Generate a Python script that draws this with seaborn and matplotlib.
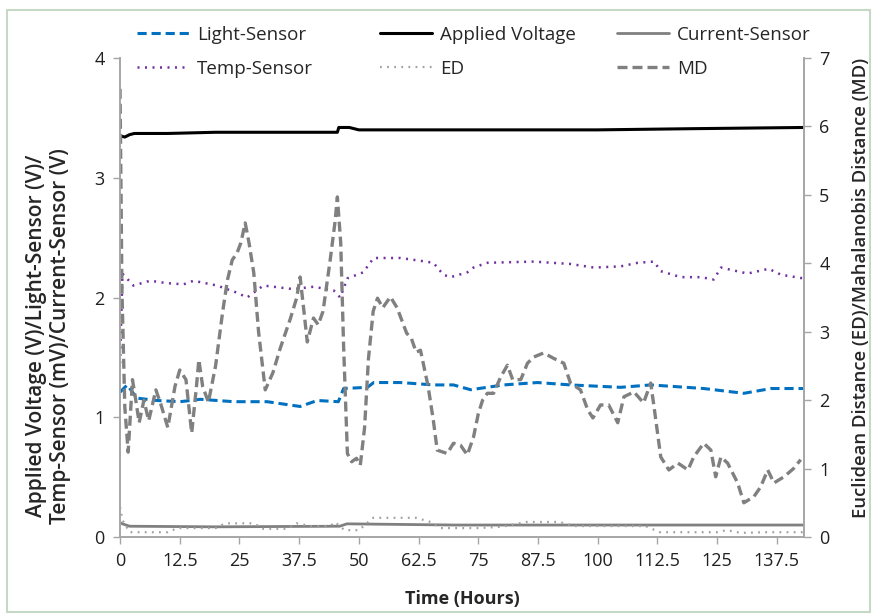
import numpy as np
import pandas as pd
import seaborn as sns
import matplotlib.pyplot as plt
from matplotlib.patches import Rectangle

# values (hours, value)
md_h = [0, 0.4, 1.0, 1.7, 2.6, 3.3, 4.0, 5.0, 6.0, 7.5, 8.5, 10.0, 11.5, 12.5, 13.8, 15.0, 16.0, 16.5, 17.3,
        18.5, 20.0, 21.5, 22.5, 23.5, 24.5, 25.3, 26.2, 27.0, 28.0, 29.0, 30.4, 32.0, 33.5, 35.7, 37.0, 37.7,
        38.5, 39.2, 40.5, 41.5, 42.5, 44.0, 45.0, 45.5, 46.2, 46.8, 47.6, 48.5, 49.5, 50.3, 51.2, 52.0, 53.0,
        53.9, 55.0, 56.6, 58.0, 60.0, 61.0, 62.0, 62.9, 64.5, 65.6, 66.4, 68.5, 69.8, 71.3, 72.7, 74.0, 75.0,
        75.9, 76.9, 78.2, 79.7, 81.1, 82.2, 83.9, 85.3, 86.6, 88.7, 90.8, 92.9, 94.3, 96.4, 97.9, 99.0, 100.6,
        102.3, 104.2, 105.5, 107.6, 109.6, 111.1, 111.8, 113.2, 114.9, 116.8, 118.9, 120.1, 122.2, 123.7,
        124.7, 125.8, 127.2, 129.3, 130.6, 132.7, 134.1, 135.6, 136.9, 139.0, 141.0, 142.5]
md_v = [6.55, 3.6, 1.9, 1.24, 2.3, 2.0, 1.67, 2.0, 1.7, 2.15, 1.95, 1.6, 2.2, 2.44, 2.3, 1.52, 2.2, 2.59, 2.2,
        1.97, 2.5, 3.3, 3.76, 4.05, 4.15, 4.3, 4.59, 4.3, 3.86, 3.0, 2.15, 2.4, 2.75, 3.2, 3.5, 3.8,
        3.3, 2.85, 3.2, 3.1, 3.3, 4.05, 4.6, 4.97, 4.3, 2.8, 1.22, 1.1, 1.15, 1.05, 1.6, 2.6, 3.3,
        3.49, 3.35, 3.51, 3.35, 2.98, 2.9, 2.7, 2.73, 2.2, 1.7, 1.27, 1.22, 1.37, 1.34, 1.2, 1.46, 1.8,
        2.0, 2.1, 2.1, 2.34, 2.51, 2.3, 2.3, 2.54, 2.63, 2.69, 2.61, 2.54, 2.25, 2.15, 1.86, 1.74, 1.93,
        1.93, 1.67, 2.05, 2.12, 1.96, 2.25, 1.9, 1.17, 0.98, 1.08, 0.98, 1.17, 1.37, 1.27,
        0.88, 1.17, 1.08, 0.79, 0.5, 0.59, 0.73, 0.98, 0.79, 0.88, 1.0, 1.13]

light_h = [0, 1.5, 3.5, 7.7, 12.6, 16.8, 23.8, 30.8, 37.7, 41.3, 45.7, 46.8, 51.8, 53.1, 58.7, 65.6, 69.8,
           73.4, 80.3, 87.4, 94.3, 104.8, 111.1, 122.2, 130.6, 136.3, 143.0]
light_v = [1.21, 1.27, 1.16, 1.14, 1.13, 1.15, 1.13, 1.13, 1.09, 1.14, 1.13, 1.24, 1.25, 1.29, 1.29, 1.27, 1.27,
           1.23, 1.27, 1.29, 1.27, 1.25, 1.27, 1.24, 1.2, 1.24, 1.24]

temp_h = [0, 0.5, 2.8, 6.3, 9.8, 13.3, 15.4, 20.3, 24.5, 26.6, 30.0, 36.3, 40.5, 44.7, 46.1, 47.6, 50.9,
          53.1, 58.7, 62.3, 65.6, 67.7, 69.2, 72.7, 74.0, 76.9, 86.6, 94.3, 99.2, 104.8, 108.4, 111.8,
          113.2, 117.4, 121.6, 124.3, 125.8, 131.4, 135.8, 138.4, 143.0]
temp_v = [1.45, 2.2, 2.1, 2.14, 2.12, 2.11, 2.14, 2.1, 2.04, 2.0, 2.1, 2.07, 2.09, 2.06, 2.0, 2.16, 2.21,
          2.33, 2.33, 2.31, 2.29, 2.19, 2.17, 2.21, 2.25, 2.29, 2.3, 2.28, 2.25, 2.26, 2.29, 2.3,
          2.22, 2.17, 2.17, 2.15, 2.25, 2.2, 2.24, 2.19, 2.16]

volt_h = [0, 1.0, 2.0, 3.0, 10.0, 20.0, 30.0, 40.0, 45.5, 45.8, 48.0, 50.0, 60.0, 80.0, 100.0, 120.0, 143.0]
volt_v = [3.35, 3.34, 3.36, 3.37, 3.37, 3.38, 3.38, 3.38, 3.38, 3.42, 3.42, 3.4, 3.4, 3.4, 3.4, 3.41, 3.42]

curr_h = [0, 0.5, 2.0, 20.0, 46.0, 47.5, 70.0, 100.0, 143.0]
curr_v = [0.12, 0.11, 0.09, 0.085, 0.09, 0.11, 0.1, 0.1, 0.1]

ed_h = [0, 0.5, 2.0, 6.0, 10.0, 12.0, 20.0, 22.0, 28.0, 30.0, 35.0, 37.0, 40.0, 44.0, 45.0, 47.0, 50.0,
        53.0, 62.0, 65.0, 67.0, 75.0, 80.0, 85.0, 92.0, 95.0, 110.0, 113.0, 125.0, 127.0, 130.0, 135.0, 143.0]
ed_v = [0.44, 0.25, 0.07, 0.07, 0.07, 0.13, 0.13, 0.2, 0.2, 0.12, 0.12, 0.2, 0.16, 0.16, 0.22, 0.1, 0.1,
        0.28, 0.28, 0.22, 0.13, 0.13, 0.15, 0.22, 0.22, 0.16, 0.16, 0.07, 0.07, 0.1, 0.06, 0.07, 0.07]

x_ticks = [0, 12.5, 25, 37.5, 50, 62.5, 75, 87.5, 100, 112.5, 125, 137.5]

sns.set_style('white')
plt.rcParams['font.family'] = ['Open Sans', 'DejaVu Sans']

fig, ax = plt.subplots(figsize=(8.73, 6.14), dpi=100)
fig.subplots_adjust(left=0.1375, right=0.921, bottom=0.1254, top=0.9055)
ax2 = ax.twinx()

blue = '#0070c0'
purple = '#7030a0'
grey = '#808080'

sns.lineplot(x=light_h, y=light_v, ax=ax, color=blue, lw=2.2, sort=False, label='Light-Sensor', legend=False)
ax.lines[-1].set_dashes((3, 1.6))
sns.lineplot(x=temp_h, y=temp_v, ax=ax, color=purple, lw=1.8, sort=False, label='Temp-Sensor', legend=False)
ax.lines[-1].set_dashes((0.8, 2.2))
sns.lineplot(x=volt_h, y=volt_v, ax=ax, color='black', lw=2.2, sort=False, label='Applied Voltage', legend=False)
sns.lineplot(x=curr_h, y=curr_v, ax=ax, color=grey, lw=2.0, sort=False, label='Current-Sensor', legend=False)

sns.lineplot(x=ed_h, y=ed_v, ax=ax2, color='#a0a0a0', lw=1.6, sort=False, label='ED', legend=False)
ax2.lines[-1].set_dashes((0.8, 2.4))
sns.lineplot(x=md_h, y=md_v, ax=ax2, color=grey, lw=2.4, sort=False, label='MD', legend=False)
ax2.lines[-1].set_dashes((3, 1.5))

ax.set_xlim(0, 143.2)
ax.set_ylim(0, 4)
ax2.set_ylim(0, 7)
ax.set_xticks(x_ticks)
ax.set_xticklabels([f'{t:g}' for t in x_ticks])
ax.set_yticks(range(0, 5))
ax2.set_yticks(range(0, 8))

spine_c = '#a6a6a6'
for a in (ax, ax2):
    a.spines['top'].set_visible(False)
    for s in ['left', 'right', 'bottom']:
        a.spines[s].set_color(spine_c)
        a.spines[s].set_linewidth(1.2)
    a.tick_params(length=5, width=1, color=spine_c, labelsize=13, labelcolor='#202020', pad=6)
    a.grid(False)
ax.tick_params(axis='y', direction='out', left=True, right=False)
ax.tick_params(axis='x', direction='out', bottom=True)
ax2.tick_params(axis='y', direction='out', right=True, left=False)

ax.set_xlabel('Time (Hours)', fontsize=13, fontweight='bold', labelpad=14)
ax.set_ylabel('Applied Voltage (V)/Light-Sensor (V)/\nTemp-Sensor (mV)/Current-Sensor (V)',
              fontsize=15, fontweight='semibold', linespacing=1.15)
ax.yaxis.set_label_coords(-0.072, 0.42)
ax2.set_ylabel('Euclidean Distance (ED)/Mahalanobis Distance (MD)', fontsize=13.3,
               fontweight='semibold')
ax2.yaxis.set_label_coords(1.07, 0.52)

h1, l1 = ax.get_legend_handles_labels()
h2, l2 = ax2.get_legend_handles_labels()
hd = dict(zip(l1 + l2, h1 + h2))
columns = [['Light-Sensor', 'Temp-Sensor'], ['Applied Voltage', 'ED'], ['Current-Sensor', 'MD']]
col_x = [0.1375, 0.4158, 0.6873]
for names, x in zip(columns, col_x):
    fig.legend([hd[k] for k in names], names, loc='upper left', bbox_to_anchor=(x, 0.9853),
               frameon=False, fontsize=13.5, handlelength=2.8, handletextpad=0.4, labelspacing=0.85)

fig.patches.append(Rectangle((0.008, 0.004), 0.988, 0.98, transform=fig.transFigure, fill=False,
                             edgecolor='#c5d9c5', lw=1.5))

fig.savefig('out.png', dpi=100)
